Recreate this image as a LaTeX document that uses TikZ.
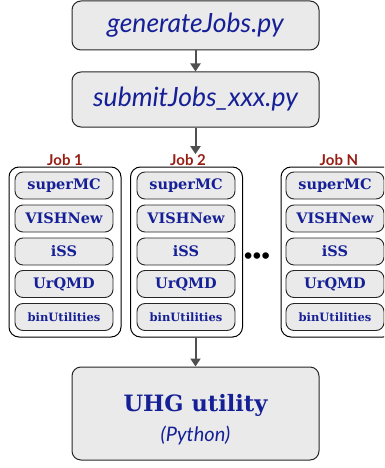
\documentclass[tikz,border=0pt]{standalone}
\usepackage{fontspec}
\usepackage{xcolor}
\usepackage{tikz}
\usetikzlibrary{shapes,arrows,arrows.meta}
\newfontfamily\gillfont{Lato}
\newfontfamily\slabfont{DejaVu Serif}
\definecolor{codeblue}{RGB}{22,32,150}
\definecolor{jobred}{RGB}{150,30,20}
\definecolor{boxgray}{RGB}{234,234,234}
\definecolor{arrowgray}{RGB}{80,80,80}

\begin{document}
\begin{tikzpicture}[x=1pt, y=-1pt,
scriptbox/.style={draw=black!85, line width=1pt, fill=boxgray, rounded corners=9pt, minimum width=247pt, inner sep=0pt, text=codeblue, font=\gillfont\itshape\fontsize{26.5}{26.5}\selectfont},
jobbox/.style={draw=black, line width=1pt, fill=white, rounded corners=10pt, minimum width=112pt, minimum height=170pt, inner sep=0pt},
codebox/.style={draw=black!85, line width=0.9pt, fill=boxgray, rounded corners=8pt, minimum width=98pt, minimum height=27pt, inner sep=0pt, text=codeblue, font=\slabfont\bfseries\fontsize{14.5}{14.5}\selectfont},
joblabel/.style={text=jobred, font=\gillfont\bfseries\fontsize{15}{15}\selectfont, inner sep=0pt},
flow/.style={-{Triangle[length=8pt,width=10pt]}, draw=arrowgray, line width=2pt}]
\useasboundingbox (0,0) rectangle (384,468);
\clip (0,0) rectangle (384,468);
%scripts
\node[scriptbox, minimum height=49pt] (gen) at (195.5,25.5) {generateJobs.py};
\node[scriptbox, minimum height=55pt] (sub) at (195.5,99.5) {submitJobs\_xxx.py};
%jobs
\node[joblabel] (lbl1) at (65,160) {Job 1};
\node[joblabel] (lbl2) at (188,160) {Job 2};
\node[joblabel] (lblN) at (339,160) {Job N};
\node[jobbox] (job1) at (65,252) {};
\node[jobbox] (job2) at (186.5,252) {};
\node[jobbox] (jobN) at (337,252) {};
\node[codebox] (mc1) at (64,185.5) {superMC};
\node[codebox] (vish1) at (64,218.5) {VISHNew};
\node[codebox] (iss1) at (64,251.5) {iSS};
\node[codebox] (urqmd1) at (64,284) {UrQMD};
\node[codebox, font=\slabfont\bfseries\fontsize{11.5}{11.5}\selectfont] (bin1) at (64,317) {binUtilities};
\node[codebox] (mc2) at (186,185.5) {superMC};
\node[codebox] (vish2) at (186,218.5) {VISHNew};
\node[codebox] (iss2) at (186,251.5) {iSS};
\node[codebox] (urqmd2) at (186,284) {UrQMD};
\node[codebox, font=\slabfont\bfseries\fontsize{11.5}{11.5}\selectfont] (bin2) at (186,317) {binUtilities};
\node[codebox] (mcN) at (335,185.5) {superMC};
\node[codebox] (vishN) at (335,218.5) {VISHNew};
\node[codebox] (issN) at (335,251.5) {iSS};
\node[codebox] (urqmdN) at (335,284) {UrQMD};
\node[codebox, font=\slabfont\bfseries\fontsize{11.5}{11.5}\selectfont] (binN) at (335,317) {binUtilities};
\node[font=\gillfont\bfseries\fontsize{15}{15}\selectfont, inner sep=0pt] (dots) at (257,257) {•••};
%utility
\node[scriptbox, minimum height=93pt, align=center, font=\gillfont\itshape\fontsize{20}{24}\selectfont] (uhg) at (195.5,413.5) {\rule{0pt}{30pt}{\slabfont\upshape\bfseries\fontsize{22.5}{22.5}\selectfont UHG utility}\\[6pt](Python)};
\draw[flow] (gen) -- (sub);
\draw[flow] (sub.south) -- (sub.south |- lbl2.north);
\draw[flow] (uhg.north |- job2.south) -- (uhg.north);
\end{tikzpicture}
\end{document}
